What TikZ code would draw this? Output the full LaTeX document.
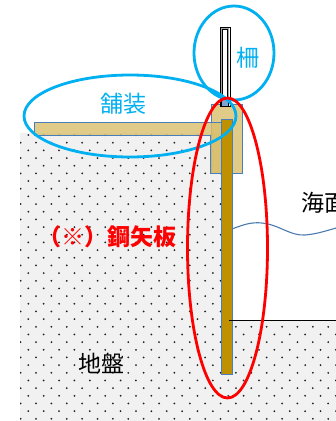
\documentclass[tikz,border=0pt]{standalone}
\usepackage{fontspec}
\newfontfamily\jp{Noto Sans CJK JP}
\definecolor{callout}{HTML}{00B0F0}
\definecolor{pavetan}{HTML}{DAC06E}
\definecolor{pilegold}{HTML}{BF9000}
\definecolor{edgeblue}{HTML}{4A7EBB}
\definecolor{soilbg}{HTML}{F1F1F1}
\definecolor{soildot}{HTML}{222222}
\definecolor{waveblue}{HTML}{4A7AAE}
\tikzset{
  part/.style={draw=edgeblue, line width=0.9pt},
  tanpart/.style={part, fill=pavetan, fill opacity=0.82},
  ring/.style={line width=2.8pt},
  jplabel/.style={font=\jp\fontsize{23}{23}\selectfont, inner sep=0pt},
}
\begin{document}
\begin{tikzpicture}[x=1pt,y=-1pt]
\useasboundingbox (0,0) rectangle (336,421);
\clip (0,0) rectangle (336,421);

% ground: dotted soil on both sides of the sheet pile
\begin{scope}
  \clip (20,133) rectangle (226,421) (226,320) rectangle (336,421);
  \fill[soilbg] (20,133) rectangle (336,421);
  \foreach \n in {-1,...,36} {
    \pgfmathsetmacro\yy{142.7+7.67*\n}
    \pgfmathsetmacro\xs{isodd(\n)?28.31:36}
    \foreach \k in {-2,...,20} {
      \fill[soildot] ({\xs+15.38*\k},\yy) circle[radius=1pt];
    }
  }
\end{scope}

% coping block on top of the pile
\draw[tanpart] (211,104) rectangle (242,173);
% pavement slab (L-shaped where it meets the coping)
\draw[tanpart] (34,122) -- (227,122) -- (227,173) -- (210,173) -- (210,135) -- (34,135) -- cycle;
% steel sheet pile
\draw[part, fill=pilegold] (221,119) rectangle (232,374);

% fence post
\draw[black, line width=0.8pt, fill=white] (220,27) rectangle (230,106);
\fill[gray!70] (221.3,28.3) rectangle (228.7,104.7);
\draw[black, line width=0.6pt, fill=white] (222.6,29.6) rectangle (227.4,103.4);
\draw[black, line width=0.6pt, fill=edgeblue!70] (221.5,99) rectangle (228.5,106);

% sea surface and sea bed
\coordinate (waveStart) at (232,229);
\coordinate (waveEnd) at (340,227);
\draw[waveblue, line width=1.1pt] (waveStart) .. controls (245,224) and (252,222) .. (262,223)
  .. controls (280,225) and (290,236) .. (305,235)
  .. controls (318,234) and (328,230) .. (waveEnd);
\coordinate (bedStart) at (229,320);
\coordinate (bedEnd) at (336,320);
\draw[black, line width=1pt] (bedStart) -- (bedEnd);

% callout ellipses
\draw[callout, ring] (234,53) ellipse [x radius=40pt, y radius=47pt];
\draw[callout, ring] (130,116) ellipse [x radius=106pt, y radius=41pt];
\draw[red, ring] (227.5,248) ellipse [x radius=40pt, y radius=150pt];

% labels
\node[jplabel, text=callout] (fenceLabel) at (248,58) {柵};
\node[jplabel, text=callout] (paveLabel) at (123,104) {舗装};
\node[jplabel, text=red, font=\jp\bfseries\fontsize{23}{23}\selectfont] (pileLabel) at (107.5,237) {（※）鋼矢板};
\node[jplabel, anchor=west] (seaLabel) at (301,203) {海面};
\node[jplabel] (soilLabel) at (101,363) {地盤};
\end{tikzpicture}
\end{document}
